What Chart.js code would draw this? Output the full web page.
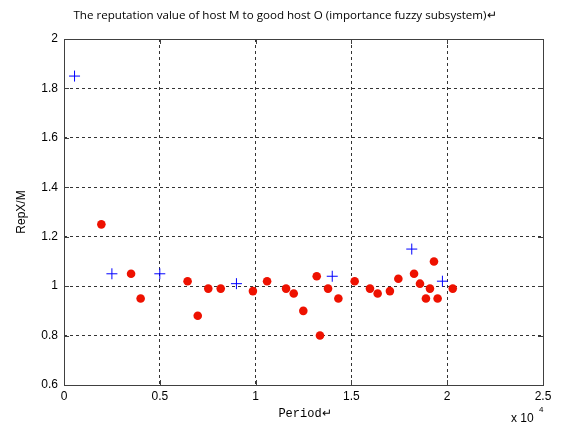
<!DOCTYPE html>
<html><head><meta charset="utf-8">
<script src="https://cdn.jsdelivr.net/npm/chart.js@4"></script>
<style>html,body{margin:0;padding:0;background:#fff;}canvas{display:block;}</style>
</head><body>
<canvas id="c" width="563" height="428"></canvas>
<script>
const titleText = "The reputation value of host M to good host O (importance fuzzy subsystem)\u21B5";
const xLabel = "Period\u21B5";
const yLabel = "RepX/M";
const xTicks = [0, 5000, 10000, 15000, 20000, 25000];
const xTickLabels = ["0", "0.5", "1", "1.5", "2", "2.5"];
const yTicks = [0.6, 0.8, 1.0, 1.2, 1.4, 1.6, 1.8, 2.0];
const yTickLabels = ["0.6", "0.8", "1", "1.2", "1.4", "1.6", "1.8", "2"];

const crossX = [550, 2500, 5000, 9000, 14000, 18150, 19750];
const crossY = [1.85, 1.05, 1.05, 1.01, 1.04, 1.15, 1.02];

const dotX = [1950, 3500, 4000, 6450, 6980, 7530, 8180, 9860, 10600, 11590, 11990, 12490, 13190, 13360, 13780, 14320, 15170, 15970, 16370, 17010, 17450, 18270, 18580, 18890, 19100, 19310, 19500, 20290];
const dotY = [1.25, 1.05, 0.95, 1.02, 0.88, 0.99, 0.99, 0.98, 1.02, 0.99, 0.97, 0.90, 1.04, 0.80, 0.99, 0.95, 1.02, 0.99, 0.97, 0.98, 1.03, 1.05, 1.01, 0.95, 0.99, 1.10, 0.95, 0.99];

const toPts = (xs, ys) => xs.map((x, i) => ({x: x, y: ys[i]}));

const decor = {
  id: 'decor',
  beforeDatasetsDraw(chart) {
    const {ctx, chartArea: a, scales: {x, y}} = chart;
    ctx.save();
    ctx.strokeStyle = '#404040';
    ctx.lineWidth = 1;
    ctx.setLineDash([]);
    ctx.strokeRect(Math.round(a.left) + 0.5, Math.round(a.top) + 0.5, Math.round(a.right - a.left), Math.round(a.bottom - a.top));
    ctx.beginPath();
    xTicks.forEach(v => {
      const px = Math.round(x.getPixelForValue(v)) + 0.5;
      ctx.moveTo(px, a.bottom); ctx.lineTo(px, a.bottom - 5);
      ctx.moveTo(px, a.top); ctx.lineTo(px, a.top + 5);
    });
    yTicks.forEach(v => {
      const py = Math.round(y.getPixelForValue(v)) + 0.5;
      ctx.moveTo(a.left, py); ctx.lineTo(a.left + 5, py);
      ctx.moveTo(a.right, py); ctx.lineTo(a.right - 5, py);
    });
    ctx.stroke();
    ctx.restore();
  },
  afterDraw(chart) {
    const {ctx, chartArea: a} = chart;
    ctx.save();
    ctx.fillStyle = '#000';
    ctx.textAlign = 'center';
    ctx.textBaseline = 'middle';
    ctx.font = '11.6px "Open Sans"';
    ctx.fillText(titleText, 285, 16);
    ctx.font = '12px "Liberation Mono"';
    ctx.fillText(xLabel, 305, 414);
    ctx.font = '12px "Liberation Sans"';
    ctx.save();
    ctx.translate(22, 212);
    ctx.rotate(-Math.PI / 2);
    ctx.fillText(yLabel, 0, 0);
    ctx.restore();
    ctx.textAlign = 'left';
    ctx.fillText('x 10', 511, 419);
    ctx.font = '8px "Liberation Sans"';
    ctx.fillText('4', 539, 410);
    ctx.restore();
  }
};

new Chart(document.getElementById('c'), {
  type: 'scatter',
  data: {
    datasets: [
      {
        label: 'cross',
        data: toPts(crossX, crossY),
        pointStyle: 'cross',
        pointRadius: 5.5,
        pointBorderColor: '#0000ff',
        pointBackgroundColor: '#0000ff',
        pointBorderWidth: 1,
        pointHoverRadius: 5.5
      },
      {
        label: 'dot',
        data: toPts(dotX, dotY),
        pointStyle: 'circle',
        pointRadius: 4.3,
        pointBorderWidth: 0,
        pointBackgroundColor: '#ee1100',
        pointBorderColor: '#ee1100',
        pointHoverRadius: 4.3
      }
    ]
  },
  options: {
    responsive: false,
    animation: false,
    events: [],
    layout: {padding: {top: 39, right: 20, left: 0, bottom: 0}},
    plugins: {legend: {display: false}, title: {display: false}, tooltip: {enabled: false}},
    scales: {
      x: {
        type: 'linear', min: 0, max: 25000,
        afterBuildTicks: s => { s.ticks = xTicks.map(v => ({value: v})); },
        afterFit: s => { s.height = 43; },
        ticks: {
          callback: (v) => { const i = xTicks.indexOf(v); return i >= 0 ? xTickLabels[i] : ''; },
          color: '#000', font: {family: 'Liberation Sans', size: 12}, padding: 4, maxRotation: 0, autoSkip: false
        },
        grid: {color: '#333', lineWidth: 1, drawTicks: false},
        border: {display: false, dash: [3, 3]}
      },
      y: {
        type: 'linear', min: 0.6, max: 2.0,
        afterBuildTicks: s => { s.ticks = yTicks.map(v => ({value: v})); },
        afterFit: s => { s.width = 64; },
        ticks: {
          callback: (v) => { const i = yTicks.findIndex(t => Math.abs(t - v) < 1e-9); return i >= 0 ? yTickLabels[i] : ''; },
          color: '#000', font: {family: 'Liberation Sans', size: 12}, padding: 6, autoSkip: false
        },
        grid: {color: '#333', lineWidth: 1, drawTicks: false},
        border: {display: false, dash: [3, 3]}
      }
    }
  },
  plugins: [decor]
});
</script>
</body></html>
